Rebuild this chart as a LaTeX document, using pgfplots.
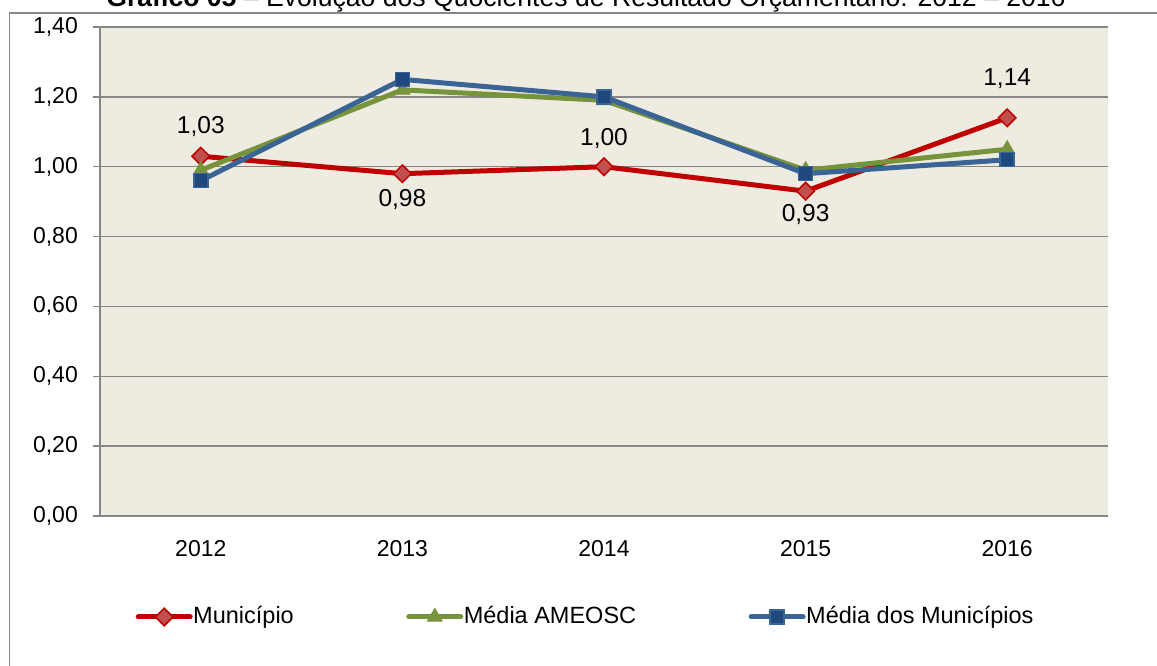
\documentclass[border=0pt]{standalone}
\usepackage{pgfplots}
\pgfplotsset{compat=1.18}
\usepackage{fontspec}
\setmainfont{Liberation Sans}

\definecolor{plotbg}{HTML}{EEECE1}
\definecolor{gridgray}{HTML}{878787}
\definecolor{munred}{HTML}{C00000}
\definecolor{munfill}{HTML}{C0504D}
\definecolor{ameogreen}{HTML}{77933C}
\definecolor{medblue}{HTML}{3A6496}
\definecolor{medfill}{HTML}{1F497D}

\begin{document}
\fontsize{23}{27.6}\selectfont
\begin{tikzpicture}[x=1pt,y=1pt]
\useasboundingbox (0,0) rectangle (1157,666);
\clip (0,0) rectangle (1157,666);
% title, cut at the top like the source image
\node[anchor=base, inner sep=0, font=\fontsize{26.6}{30}\selectfont] at (586,659)
  {\textbf{Gráfico 05} – Evolução dos Quocientes de Resultado Orçamentário: 2012 – 2016};
% outer chart frame
\draw[gridgray, line width=1.5pt] (9.5,0) -- (9.5,653) -- (1157,653);

\begin{axis}[
    at={(100pt,150pt)}, anchor=south west,
    width=1008pt, height=489pt, scale only axis,
    xmin=0.5, xmax=5.5, ymin=0, ymax=1.4,
    axis background/.style={fill=plotbg},
    axis x line*=bottom, axis y line*=left,
    axis line style={gridgray, line width=1.5pt},
    xtick={1,2,3,4,5},
    xticklabels={2012,2013,2014,2015,2016},
    ytick={0,0.2,0.4,0.6,0.8,1.0,1.2,1.4},
    ymajorgrids,
    grid style={gridgray, line width=1.5pt},
    tick align=outside,
    major tick length=7pt,
    ytick style={gridgray, line width=1.5pt},
    xtick style={draw=none},
    /pgf/number format/assume math mode=true,
    yticklabel={\pgfmathprintnumber[use comma,fixed,fixed zerofill,precision=2]{\tick}},
    yticklabel style={inner sep=0pt, xshift=-15pt},
    xticklabel style={inner sep=0pt, yshift=-17pt},
    legend columns=3,
    legend style={at={(0.481,-0.2065)}, anchor=center, draw=none, fill=none,
      font=\fontsize{23.5}{28}\selectfont,
      nodes={inner sep=0.5pt},
      /tikz/every even column/.append style={column sep=112pt}},
    legend image code/.code={
      \draw[mark repeat=2, mark phase=2, #1, line width=5pt, line cap=round]
        plot coordinates {(2pt,0pt) (28pt,0pt) (54pt,0pt)};},
]
\addplot[munred, line width=5pt, mark=square*,
  mark options={rotate=45, mark size=6.2pt, fill=munfill, draw=munred, line width=1.5pt}]
  coordinates {(1,1.03) (2,0.98) (3,1.00) (4,0.93) (5,1.14)};
\addlegendentry{Município}
\addplot[ameogreen, line width=5pt, mark=triangle*,
  mark options={mark size=8.5pt, fill=ameogreen, draw=ameogreen, line width=1pt}]
  coordinates {(1,0.99) (2,1.22) (3,1.19) (4,0.99) (5,1.05)};
\addlegendentry{Média AMEOSC}
\addplot[medblue, line width=5pt, mark=square*,
  mark options={mark size=7pt, fill=medfill, draw=medblue, line width=1.5pt}]
  coordinates {(1,0.96) (2,1.25) (3,1.20) (4,0.98) (5,1.02)};
\addlegendentry{Média dos Municípios}
% data labels of the Município series
\addplot[draw=none, forget plot,
  nodes near coords={\pgfmathprintnumber[use comma,fixed,fixed zerofill,precision=2,assume math mode=true]{\pgfplotspointmeta}},
  visualization depends on={\thisrow{dy} \as \dy},
  every node near coord/.append style={anchor=center, inner sep=0pt, yshift=\dy pt,
    font=\fontsize{24.5}{29}\selectfont}]
  table {
x y dy
1 1.03 30
2 0.98 -26
3 1.00 28
4 0.93 -23
5 1.14 39
};
\end{axis}
\end{tikzpicture}
\end{document}
